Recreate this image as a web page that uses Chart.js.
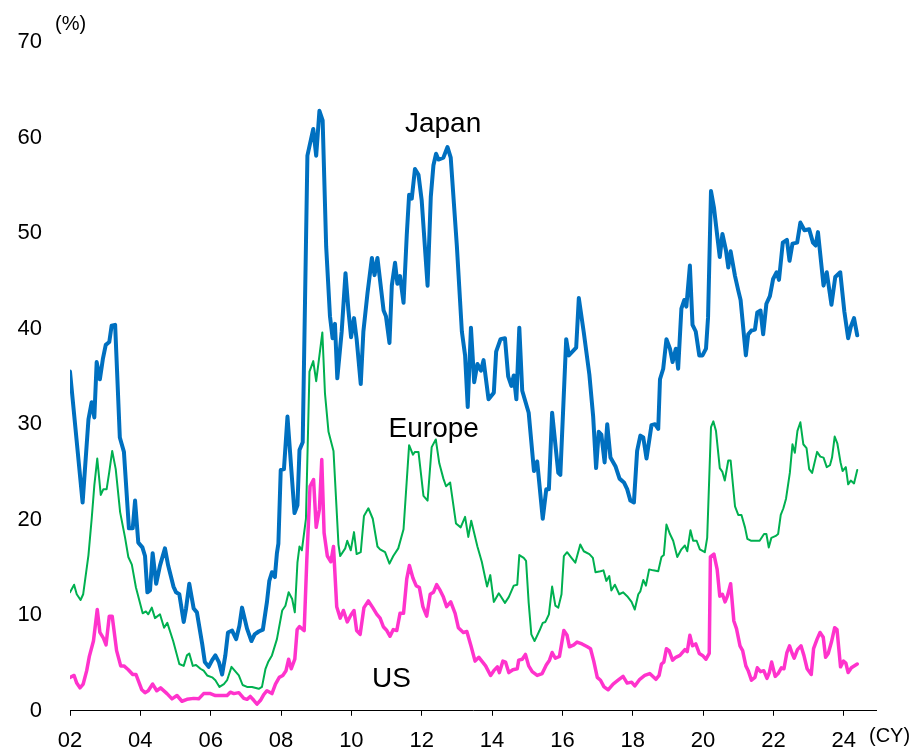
<!DOCTYPE html>
<html>
<head>
<meta charset="utf-8">
<script src="https://cdn.jsdelivr.net/npm/chart.js@4.4.1/dist/chart.umd.min.js"></script>
<style>
  html, body { margin: 0; padding: 0; background: #fff; }
  #wrap { width: 913px; height: 752px; position: relative; }
</style>
</head>
<body>
<div id="wrap"><canvas id="chart"></canvas></div>
<script>
// x = months since Jan 2002, y = %
const japan = [[0,35.5],[4.3,21.8],[6.3,30.5],[7.4,32.3],[8.3,30.7],[9.1,36.5],[10.2,34.7],[11.2,36.8],[12.2,38.3],[13.4,38.6],[14.2,40.3],[15.4,40.4],[17,28.6],[18.4,27.1],[20.1,19.1],[21.4,19.1],[22.2,22],[23.3,17.6],[24.7,17.1],[25.6,16.2],[26.4,12.4],[27.3,12.6],[28.2,16.5],[29.4,13.3],[30.7,15.2],[32.4,17.0],[33.5,15.2],[35.3,13],[36.2,12.4],[37.3,12.2],[38.8,9.3],[39.6,10.7],[40.7,13.3],[42.2,10.7],[43.3,10.3],[45.1,7.0],[46,5.1],[47.3,4.6],[48.5,5.3],[49.6,5.8],[50.8,5.1],[51.9,3.8],[53,5.8],[53.9,8.2],[55.3,8.4],[56.7,7.5],[57.8,8.9],[58.7,10.8],[60.4,8.6],[61.9,7.3],[63,8.0],[64.4,8.3],[65.8,8.5],[67.2,11.4],[68,13.6],[68.9,14.5],[69.9,14.0],[70.6,16.5],[71.1,17.5],[71.9,25.2],[73,25.3],[74.2,30.8],[76.6,20.7],[77.6,21.5],[78.3,27.3],[79.4,28.1],[81,58.1],[83,60.9],[84,58.1],[85.1,62.8],[86.2,61.8],[87.4,48.6],[88.7,41.3],[89.6,39],[90.4,40.5],[91.2,34.8],[92.7,39.7],[94,45.8],[95,41.9],[95.9,39.1],[96.9,41.1],[97.8,38.9],[99.2,34.2],[100.1,39.7],[101.5,43.7],[103,47.4],[103.9,45.6],[104.9,47.4],[107,41.9],[107.8,41.3],[109,38.5],[109.8,44.5],[110.9,46.9],[111.7,44.7],[112.6,45.5],[113.8,42.7],[114.9,49.8],[115.7,54],[116.6,53.6],[117.7,56.7],[118.9,56.1],[120,53.4],[122,44.5],[123.1,53.8],[124,57.1],[124.9,58.3],[125.7,57.7],[127.4,57.9],[128.8,59],[129.9,57.9],[132,48.6],[133.7,39.7],[134.8,37.2],[135.7,31.8],[136.8,40.1],[137.9,34.4],[139,36.3],[140.2,35.6],[141.1,36.7],[142.8,32.6],[144.6,33.3],[145.4,37.6],[146.9,38.9],[148.4,39],[149.5,35],[150.6,34],[151.4,35.1],[152.3,32.6],[153.3,40.1],[154.3,33.5],[156.5,31.2],[158.3,25.1],[159.4,26.1],[161.3,20.1],[162.5,23.2],[163.4,23.2],[164.5,31.2],[166.6,24.9],[167.3,24.7],[169.3,38.9],[170.2,37.2],[172.7,38],[173.6,43.2],[175.3,39.6],[177.2,35.2],[178.5,30.8],[179.5,25.4],[180.4,29.2],[181.3,28.9],[182.4,26],[183.3,30],[184.4,26.5],[186.1,25.6],[187.5,24.3],[189,23.9],[190.1,23.2],[191.2,22],[192.4,21.8],[193.5,27.2],[194.6,28.8],[195.6,28.6],[196.7,26.4],[198.4,29.9],[199.6,30],[200.7,29.5],[201.3,34.7],[202.4,35.8],[203.5,38.9],[204.7,37.9],[205.6,36.5],[206.7,37.9],[207.5,35.8],[208.6,42.1],[209.6,43],[210.3,42.3],[211.5,46.6],[212.4,40.4],[213.5,39.7],[214.7,37.2],[215.8,37.2],[217,37.9],[217.7,41.2],[218.7,54.4],[219.7,52.7],[220.8,49.8],[221.7,47.5],[222.6,49.9],[223.8,48.2],[224.6,46.4],[225.4,48.1],[226.9,45.5],[228,44],[228.8,43],[230.6,37.2],[231.4,39.4],[232.5,39.8],[233.7,39.9],[234.5,41.7],[235.6,41.9],[236.5,39.4],[237.6,42.6],[238.8,43.4],[239.9,45.2],[241.1,45.9],[241.9,45.1],[243.2,49],[244.6,49.3],[245.5,47.1],[246.5,48.9],[248.1,49],[249.2,51.1],[250.6,50.3],[252.2,50.4],[253.5,49],[254.4,48.7],[255.2,50.1],[257.1,44.5],[258.2,45.9],[259.8,42.5],[261.1,45.4],[262.8,45.9],[264.2,41.8],[265.5,39],[266.4,40.2],[267.5,41.1],[268.6,39.3]];

const europe = [[0,12.4],[1.4,13.2],[2.3,12.2],[3.6,11.6],[4.5,12.2],[6.3,16.3],[7.4,20.1],[8.3,23.6],[9.3,26.4],[10.5,22.6],[11.4,23.2],[12.5,23.2],[13.4,25],[14.4,27.2],[15.6,25.3],[17.1,20.8],[18.8,18.1],[19.9,16.1],[21.1,15.3],[22.5,12.9],[24.8,10.2],[25.9,10.4],[26.7,10.1],[27.9,10.8],[29,9.7],[30.7,10.1],[32.1,8.7],[33.2,9.2],[35.2,7.3],[37.3,4.9],[38.8,4.7],[39.9,5.8],[40.7,6.0],[41.9,4.7],[43,4.8],[44.5,4.4],[45.6,4.2],[46.8,3.7],[48.5,3.5],[49.6,3.2],[51,2.5],[52.5,2.8],[53.6,3.2],[55.1,4.6],[56.2,4.2],[57.6,3.7],[58.9,2.7],[60.4,2.5],[62.1,2.5],[64.4,2.3],[65.5,2.5],[66.7,4.4],[67.6,5.1],[68.9,5.8],[70.6,7.5],[72.4,10.5],[73.5,11.0],[74.6,12.4],[75.8,11.7],[76.7,10.3],[77.6,15.5],[78.3,17.2],[79.1,16.8],[80.5,20.1],[81.7,35.5],[83,36.6],[84,34.5],[86.1,39.6],[87,33.2],[88.2,29.2],[89.9,27.2],[91.6,17.4],[92.2,16.2],[93.9,17],[94.6,17.8],[95.8,16.8],[96.9,18.7],[97.8,16.4],[99.2,16.6],[100.3,20.4],[101.8,21.2],[103.3,20.1],[104.9,17.2],[105.8,16.9],[107.5,16.6],[109,15.4],[110.3,16.2],[112,17],[113.8,19],[115.7,27.8],[117,26.8],[117.7,27.1],[118.9,27.1],[120.6,22.5],[122,22],[123.4,27.6],[124.8,28.4],[126,25.9],[127.4,24.3],[128.3,23.5],[129.7,23.9],[131.7,19.6],[133.3,19.2],[134.8,20.3],[135.9,18.2],[136.9,19.9],[139,17.2],[140.5,15.6],[141.6,14],[142.3,13.0],[143.4,14.2],[144.6,11.4],[146.3,12.3],[148.4,11.3],[149.7,11.9],[151.4,13.1],[152.6,13.2],[153.3,16.3],[154.8,16],[155.6,15.7],[156.5,11.3],[157.4,8],[158.5,7.3],[160.2,8.4],[161.3,9.2],[162.2,9.3],[163.4,10.1],[164.5,13.0],[165.6,11],[166.6,10.8],[167.7,12.2],[168.5,16.2],[169.6,16.6],[171.1,16],[172.4,15.5],[174.1,17.4],[175.3,16.7],[177.2,16.4],[178.4,16],[179.3,14.5],[181,14.6],[182,14.7],[183,13.6],[184,14.1],[184.7,12.6],[185.9,13.2],[187.4,12.2],[188.7,12.4],[190.1,12.0],[191.6,11.4],[192.7,10.6],[193.9,12.2],[194.6,12.5],[195.6,13.7],[196.5,13.1],[197.6,14.8],[199,14.7],[200.7,14.6],[201.8,16.1],[202.6,16.3],[203.5,19.5],[204.7,18.5],[205.8,17.8],[207.2,16.1],[208.6,16.9],[209.8,17.3],[210.6,16.7],[211.7,18.9],[212.6,17.8],[213.8,17.8],[214.9,16.9],[216.6,16.6],[217.4,18.1],[218.7,29.7],[219.5,30.3],[220.4,29.3],[221.7,25.4],[222.6,25],[223.4,24.1],[224.6,26.2],[225.4,26.2],[226.9,21.4],[228,20.5],[229.1,20.5],[230.3,19.2],[231.1,18.0],[232.3,17.8],[235.3,17.8],[236.8,18.5],[237.6,18.5],[238.4,17.1],[239.3,18.1],[240.8,18.3],[241.6,18.5],[242.5,20.5],[243.4,21.2],[244.3,22.2],[245.6,24.9],[246.5,27.9],[247.3,27],[248.2,29.3],[249.2,30.2],[250.2,27.9],[251.3,27.5],[252.2,25.3],[253.2,24.9],[254.9,27.1],[256,26.6],[257.1,26.5],[258.2,25.5],[259.3,25.7],[260,26.5],[260.9,28.7],[261.8,28],[262.9,26],[263.6,25.1],[264.7,25.5],[265.5,23.7],[266.4,24.1],[267.5,23.8],[268.6,25.2]];

const us = [[0,3.5],[1.4,3.7],[2.3,2.9],[3.4,2.4],[4.5,2.8],[5.7,4.2],[6.6,5.7],[8,7.3],[9.3,10.6],[10.2,8.2],[11.4,7.6],[12.3,6.9],[13.4,9.9],[14.4,9.9],[15.9,6.3],[17.3,4.7],[18.4,4.7],[19.9,4.3],[21.4,3.8],[22.5,3.8],[24.5,2.2],[25.6,1.9],[26.7,2.1],[28.2,2.8],[29.6,2.1],[30.9,2.4],[33.1,1.8],[34.8,1.25],[36.5,1.6],[38.2,1.0],[39.9,1.2],[42.2,1.3],[43.9,1.25],[45.6,1.8],[47.9,1.8],[49.6,1.6],[53.6,1.6],[54.7,1.95],[55.9,1.8],[57.6,1.9],[59.3,1.3],[60.4,1.2],[61.5,1.5],[62.7,1.1],[63.8,0.7],[65,1.1],[66.1,1.7],[67.2,2.1],[68.9,1.8],[70.1,2.8],[71.4,3.5],[72.6,3.7],[73.7,4.2],[74.6,5.4],[75.5,4.4],[76.7,5.4],[77.5,8.5],[78.3,8.8],[79.9,8.4],[80.8,15.8],[81.9,23.5],[83.1,24.2],[84,19.2],[85.1,21.1],[85.9,26.3],[86.7,18.6],[87.8,16.2],[89,15.6],[89.9,17.2],[91,10.9],[92.2,9.7],[93.3,10.5],[94.6,9.3],[95.8,10.0],[96.9,10.5],[97.8,8.4],[99,8.0],[100.3,10.8],[101.8,11.5],[103.3,10.8],[104.7,10.1],[105.8,9.7],[106.9,8.8],[108.1,8.4],[109.2,7.8],[110.3,8.5],[111.5,8.4],[112.6,10.2],[113.8,10.2],[114.9,13.8],[115.8,15.2],[117,13.9],[118.1,13.1],[119.2,12.9],[120.4,10.9],[121.7,9.9],[122.9,12.2],[124,12.4],[125.1,13.2],[126.3,12.6],[127.4,11.9],[128.5,10.9],[129.9,11.4],[131.4,10.2],[132.5,8.7],[134.2,8.2],[135.4,8.3],[136.8,6.8],[138.2,5.2],[139.5,5.6],[141.8,4.7],[143.5,3.7],[144.6,4.2],[145.8,4.6],[146.5,4.0],[147.7,5.2],[148.6,5.1],[149.7,4.0],[151.1,4.3],[152.6,4.4],[153.1,5.3],[154.3,5.4],[155.4,5.9],[156.5,4.7],[157.7,4.1],[159.4,3.7],[161.1,3.9],[162.5,4.8],[163.6,5.3],[164.5,6.1],[165.6,5.5],[167,5.7],[168.5,8.4],[169.6,7.9],[170.4,6.7],[171.9,6.9],[173,7.2],[174.7,7.0],[176.5,6.7],[177.6,6.5],[178.7,5.2],[179.9,3.5],[181,3.2],[182.2,2.5],[183.6,2.2],[185.3,2.8],[187,3.2],[188.7,3.6],[190.1,2.9],[191.6,3.0],[192.7,2.6],[194.4,3.3],[196.1,3.7],[197.8,3.9],[199.9,3.3],[201,3.7],[201.8,4.9],[202.6,5.1],[203.5,6.5],[204.4,6.3],[205.6,5.3],[206.7,5.6],[208.1,5.8],[209.8,6.4],[210.6,6.2],[211.5,7.9],[212.4,6.8],[213.5,7.0],[214.7,6.0],[215.8,5.8],[217,5.4],[218.1,6.0],[218.5,16.1],[219.7,16.4],[220.8,14.8],[221.7,12.0],[222.6,12.2],[223.5,11.4],[224.3,12.0],[225.4,13.3],[226.5,9.4],[227.4,8.6],[228.6,6.8],[229.5,6.3],[230.6,4.7],[231.4,4.2],[232.5,3.2],[233.7,3.5],[234.5,4.5],[235.6,4.1],[236.7,4.2],[237.8,3.4],[238.6,4.0],[239.4,5.1],[240.6,3.6],[241.6,3.9],[242.7,4.5],[243.6,4.4],[244.6,6.1],[245.5,6.8],[246.4,6.0],[247.1,5.5],[248.2,6.4],[249.4,6.8],[250.4,5.8],[251.5,4.4],[252.9,3.8],[253.7,6.5],[254.9,7.5],[255.9,8.2],[257,7.7],[257.8,5.6],[258.7,6.0],[259.8,7.2],[260.9,8.7],[261.7,8.5],[262.9,4.6],[263.9,5.2],[264.7,5.0],[265.5,4.0],[266.6,4.5],[268.6,4.9]];

// x axis: a tick every 24 months, labelled by calendar year
const yearTicks = ['02', '04', '06', '08', '10', '12', '14', '16', '18', '20', '22', '24'];
const yTicks = [0, 10, 20, 30, 40, 50, 60, 70];

// series names written next to the lines (x in months, y in %)
const seriesLabels = [
  { text: 'Japan', x: 127.3, y: 61.4 },
  { text: 'Europe', x: 124.1, y: 29.5 },
  { text: 'US', x: 109.7, y: 3.3 }
];

const FONT = 'Arial, "Liberation Sans", sans-serif';
const toPoints = arr => arr.map(p => ({ x: p[0], y: p[1] }));

const labelPlugin = {
  id: 'labels',
  afterDatasetsDraw(chart) {
    const c = chart.ctx;
    const xs = chart.scales.x;
    const ys = chart.scales.y;
    c.save();
    c.fillStyle = '#000';
    c.textBaseline = 'middle';
    c.textAlign = 'center';
    c.font = '28px ' + FONT;
    seriesLabels.forEach(l => {
      c.fillText(l.text, xs.getPixelForValue(l.x), ys.getPixelForValue(l.y));
    });
    // unit labels
    c.font = '20px ' + FONT;
    c.textAlign = 'left';
    c.fillText('(%)', chart.chartArea.left - 15, ys.getPixelForValue(70) - 18);
    c.fillText('(CY)', chart.chartArea.right - 7, xs.bottom - 14);
    c.restore();
  }
};

const ctx = document.getElementById('chart').getContext('2d');
const chart = new Chart(ctx, {
  type: 'line',
  data: {
    datasets: [
      {
        label: 'US',
        data: toPoints(us),
        borderColor: '#FF33CC',
        borderWidth: 3.5
      },
      {
        label: 'Europe',
        data: toPoints(europe),
        borderColor: '#00B050',
        borderWidth: 2
      },
      {
        label: 'Japan',
        data: toPoints(japan),
        borderColor: '#0070C0',
        borderWidth: 4
      }
    ]
  },
  options: {
    responsive: true,
    maintainAspectRatio: false,
    animation: false,
    events: [],
    datasets: {
      line: { pointRadius: 0, tension: 0, fill: false, borderJoinStyle: 'round', borderCapStyle: 'round' }
    },
    layout: { padding: { top: 42, right: 37, bottom: 0, left: 0 } },
    plugins: {
      legend: { display: false },
      tooltip: { enabled: false }
    },
    scales: {
      x: {
        type: 'linear',
        min: 0,
        max: 275,
        afterBuildTicks: s => { s.ticks = yearTicks.map((t, i) => ({ value: i * 24 })); },
        afterFit: s => { s.height = 40; },
        ticks: {
          callback: (v, i) => yearTicks[i],
          autoSkip: false,
          maxRotation: 0,
          padding: 12,
          color: '#000',
          font: { size: 22, family: FONT }
        },
        grid: { display: true, drawOnChartArea: false, drawTicks: true, tickLength: 5, color: '#000', lineWidth: 1 },
        border: { display: true, color: '#000', width: 1 }
      },
      y: {
        min: 0,
        max: 70,
        afterBuildTicks: s => { s.ticks = yTicks.map(v => ({ value: v })); },
        afterFit: s => { s.width = 70; },
        ticks: {
          padding: 28,
          color: '#000',
          font: { size: 22, family: FONT }
        },
        grid: { display: false, drawTicks: false },
        border: { display: false }
      }
    }
  },
  plugins: [labelPlugin]
});
</script>
</body>
</html>
